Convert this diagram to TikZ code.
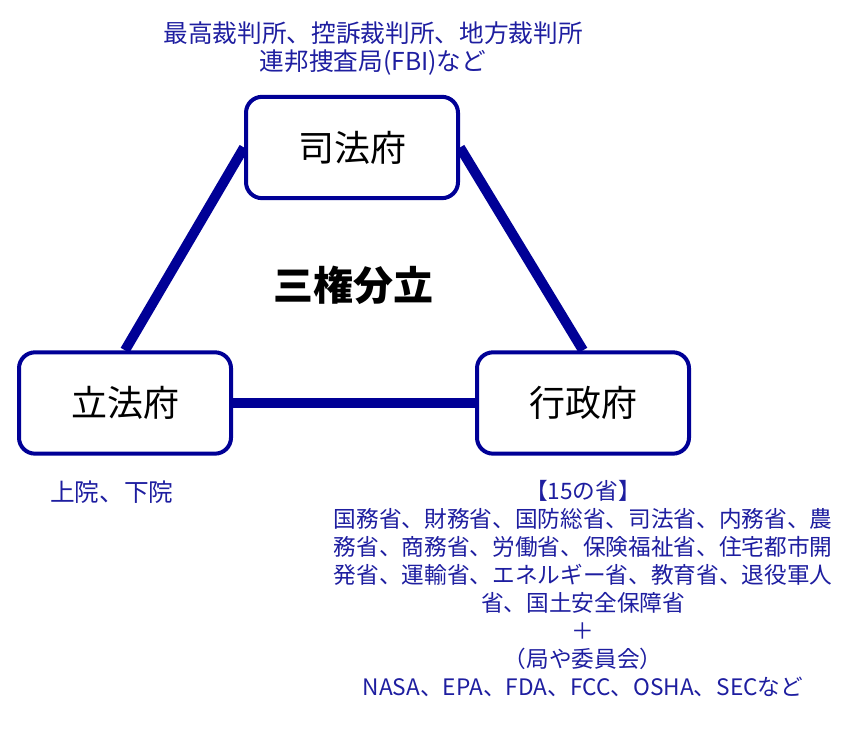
\documentclass[tikz,border=0pt]{standalone}
\usepackage{fontspec}
\setmainfont{Noto Sans CJK JP}
\usetikzlibrary{backgrounds}
\definecolor{navy}{RGB}{0,0,150}
\definecolor{txtblue}{RGB}{30,30,160}
\tikzset{
  branch/.style={draw=navy, line width=3pt, rounded corners=12pt, fill=white,
    minimum width=159pt, minimum height=76pt, inner sep=0pt,
    font=\fontsize{27}{30}\selectfont, text=black},
  link/.style={draw=navy, line width=7.5pt},
  note/.style={text=txtblue, align=center, inner sep=0pt},
}
\begin{document}
\begin{tikzpicture}[x=0.75pt,y=-0.75pt]
\useasboundingbox (0,0) rectangle (854,748);
\node[branch] (sj) at (352,147.5) {司法府};
\node[branch] (rp) at (125,403) {立法府};
\node[branch] (gs) at (583,403) {行政府};
\begin{scope}[on background layer]
\draw[link] (sj.west) -- (rp.north);
\draw[link] (sj.east) -- (gs.north);
\draw[link] (rp.east) -- (gs.west);
\end{scope}
\node[font=\fontsize{30}{34}\selectfont\bfseries, inner sep=0pt] (title) at (353,285) {三権分立};
\node[note, font=\fontsize{18.5}{21}\selectfont] (topnote) at (373,49) {最高裁判所、控訴裁判所、地方裁判所\\連邦捜査局(FBI)など};
\node[note, font=\fontsize{18.5}{21}\selectfont] (leftnote) at (112,492) {上院、下院};
\node[note, font=\fontsize{17}{21}\selectfont] (rightnote) at (583,589) {【15の省】\\国務省、財務省、国防総省、司法省、内務省、農\\務省、商務省、労働省、保険福祉省、住宅都市開\\発省、運輸省、エネルギー省、教育省、退役軍人\\省、国土安全保障省\\＋\\（局や委員会）\\NASA、EPA、FDA、FCC、OSHA、SECなど};
\end{tikzpicture}
\end{document}
